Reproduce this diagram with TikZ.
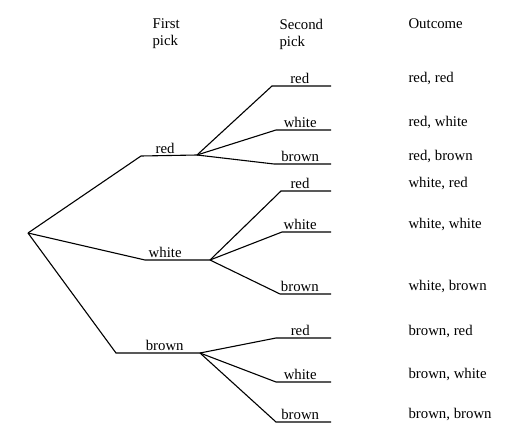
\documentclass[tikz,border=0pt]{standalone}
\usepackage{fontspec}
\setmainfont{Liberation Serif}
\usetikzlibrary{positioning}

\begin{document}
\begin{tikzpicture}[
    x=1pt,y=-1pt,line width=1.1pt,
  lab/.style={above,inner sep=1.5pt,font=\fontsize{14.8}{17}\selectfont},
  outcome/.style={anchor=base west,inner sep=0pt,font=\fontsize{14.8}{17}\selectfont},
  head/.style={anchor=north west,align=left,inner sep=0pt,font=\fontsize{14.8}{17}\selectfont},
]
  \useasboundingbox (0,0) rectangle (526,433);

  \node[head] (h1) at (152,18.5) {First\\pick};
  \node[head] (h2) at (279,18.5) {Second\\pick};
  \node[head] (h3) at (408,18.5) {Outcome};

  \coordinate (root) at (28,233);
  \coordinate (r0) at (141,156);
  \coordinate (r1) at (197,155);
  \coordinate (w0) at (145,260);
  \coordinate (w1) at (210,260);
  \coordinate (b0) at (116,353);
  \coordinate (b1) at (200,353);

  \draw (root) -- (r0) -- node[lab,pos=0.43] (fr) {red} (r1);
  \draw (root) -- (w0) -- node[lab,pos=0.31] (fw) {white} (w1);
  \draw (root) -- (b0) -- node[lab,pos=0.58] (fb) {brown} (b1);

  % after red
  \coordinate (rr) at (272,86);  \coordinate (rre) at (331,86);
  \coordinate (rw) at (276,130); \coordinate (rwe) at (331,130);
  \coordinate (rb) at (274,164); \coordinate (rbe) at (331,164);
  \draw (r1) -- (rr) -- node[lab,pos=0.47] (srr) {red} (rre);
  \draw (r1) -- (rw) -- node[lab,pos=0.44] (srw) {white} (rwe);
  \draw (r1) -- (rb) -- node[lab,pos=0.46] (srb) {brown} (rbe);

  % after white
  \coordinate (wr) at (281,191); \coordinate (wre) at (331,191);
  \coordinate (ww) at (282,232); \coordinate (wwe) at (331,232);
  \coordinate (wb) at (280,294); \coordinate (wbe) at (331,294);
  \draw (w1) -- (wr) -- node[lab,pos=0.38] (swr) {red} (wre);
  \draw (w1) -- (ww) -- node[lab,pos=0.37] (sww) {white} (wwe);
  \draw (w1) -- (wb) -- node[lab,pos=0.39] (swb) {brown} (wbe);

  % after brown
  \coordinate (br) at (276,338); \coordinate (bre) at (331,338);
  \coordinate (bw) at (276,382); \coordinate (bwe) at (331,382);
  \coordinate (bb) at (276,422); \coordinate (bbe) at (331,422);
  \draw (b1) -- (br) -- node[lab,pos=0.44] (sbr) {red} (bre);
  \draw (b1) -- (bw) -- node[lab,pos=0.44] (sbw) {white} (bwe);
  \draw (b1) -- (bb) -- node[lab,pos=0.44] (sbb) {brown} (bbe);

  \node[outcome] (o1) at (408,83) {red, red};
  \node[outcome] (o2) at (408,126.5) {red, white};
  \node[outcome] (o3) at (408,160.5) {red, brown};
  \node[outcome] (o4) at (408,187.5) {white, red};
  \node[outcome] (o5) at (408,228.5) {white, white};
  \node[outcome] (o6) at (408,290) {white, brown};
  \node[outcome] (o7) at (408,335) {brown, red};
  \node[outcome] (o8) at (408,378.5) {brown, white};
  \node[outcome] (o9) at (408,418) {brown, brown};
\end{tikzpicture}
\end{document}
